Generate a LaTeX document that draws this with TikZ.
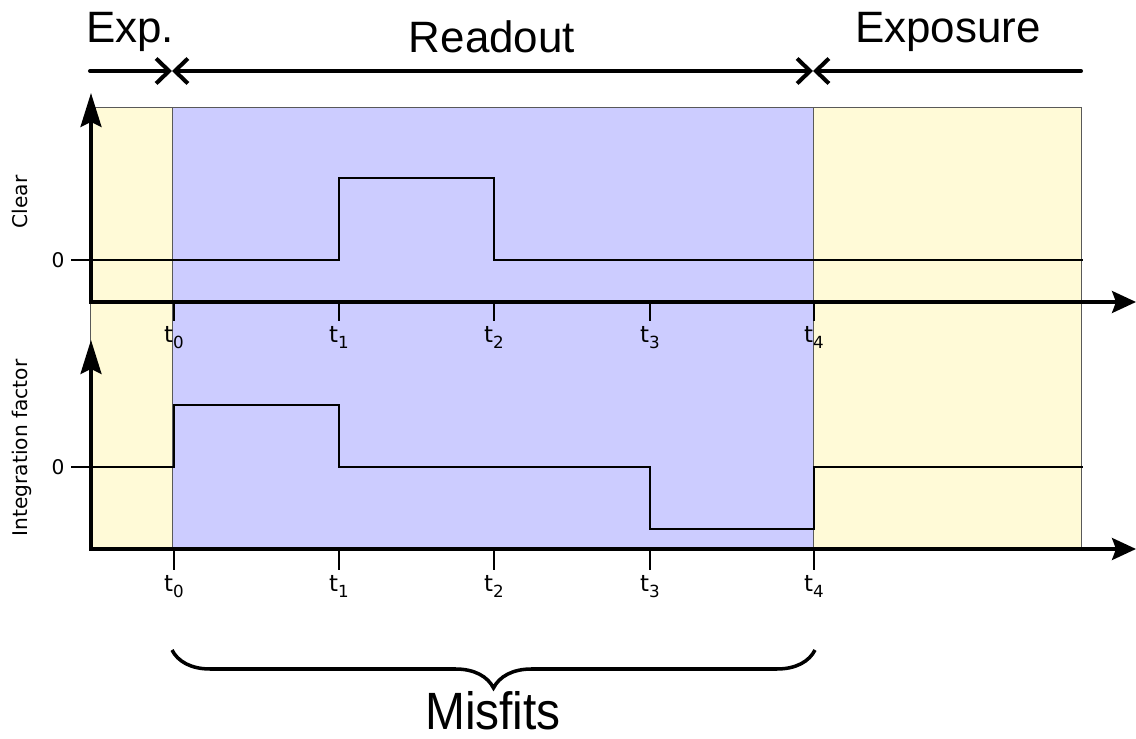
\documentclass[tikz,border=0pt]{standalone}
\usepackage{fontspec}
\setmainfont{Liberation Sans}
\newfontfamily\dejavu{DejaVu Sans}
\usetikzlibrary{arrows.meta,decorations.pathreplacing}
\definecolor{expcol}{HTML}{FFFAD7}
\definecolor{readcol}{HTML}{CCCCFF}
\newcommand{\tsub}[1]{{\fontsize{13}{15}\selectfont t}\raisebox{-0.5ex}{\fontsize{9.5}{11}\selectfont #1}}
\tikzset{barb/.tip={Straight Barb[length=0.26cm,width=0.5cm]},
	xtip/.tip={Stealth[length=0.48cm,width=0.44cm,inset=0.08cm]},
	ytip/.tip={Stealth[length=0.68cm,width=0.42cm,inset=0.1cm]}}
\begin{document}
\begin{tikzpicture}[x=0.02cm, y=-0.02cm, font=\dejavu\fontsize{11.5}{14}\selectfont, line join=miter,
	big/.style={font=\fontsize{25}{30}\selectfont, anchor=base, inner sep=0pt},
	timeline/.style={line width=2.3pt, line cap=round},
	expbox/.style={fill=expcol, draw=black!65, line width=0.5pt},
	readbox/.style={fill=readcol, draw=black!65, line width=0.5pt},
	signal/.style={line width=1.1pt},
	axis/.style={line width=1.8pt},
	tick/.style={line width=1.1pt}]
	\useasboundingbox (0,0) rectangle (1136,739);
	\draw[timeline, -barb] (90,71)--(172,71);
	\draw[timeline, barb-barb] (172,71)--(813,71);
	\draw[timeline, barb-] (813,71)--(1081,71);
	\node[big] (exp) at (130,43) {Exp.};
	\node[big] (readout) at (492,53) {Readout};
	\node[big] (exposure) at (948,43) {Exposure};
	\filldraw[expbox] (90,107) rectangle (172,548);
	\filldraw[readbox] (172,107) rectangle (813,548);
	\filldraw[expbox] (813,107) rectangle (1081,548);
	\draw[signal] (71,260)--(339,260) |- (494,178) |- (1083,260);
	\draw[signal] (71,467)--(174,467) |- (339,405) |- (650,467) |- (814,529) |- (1083,467);
	\draw[axis, ytip-xtip] (91,93) |- (1136,302);
	\draw[axis, ytip-xtip] (91,340) |- (1136,549);
	\node (zc) at (58,260) {0};
	\node (zi) at (58,467) {0};
	\node[rotate=90, anchor=base] (clear) at (28,202) {Clear};
	\node[rotate=90, anchor=base] (integ) at (28,448) {Integration factor};
	\foreach \i/\x in {0/174,1/339,2/494,3/650,4/814} {
		\draw[tick] (\x,302)--(\x,321);
		\node[anchor=base, inner sep=0pt] (t\i) at (\x,343) {\tsub{\i}};
		\draw[tick] (\x,549)--(\x,570);
		\node[anchor=base, inner sep=0pt] (s\i) at (\x,592) {\tsub{\i}};
	}
	\draw[line width=2pt, decorate, decoration={brace, mirror, amplitude=0.76cm}] (172,650)--(815,650);
	\node[anchor=base, inner sep=0pt, font=\fontsize{29}{34}\selectfont] (misfits) at (493,729) {\scalebox{0.94}[1.03]{Misfits}};
\end{tikzpicture}
\end{document}
